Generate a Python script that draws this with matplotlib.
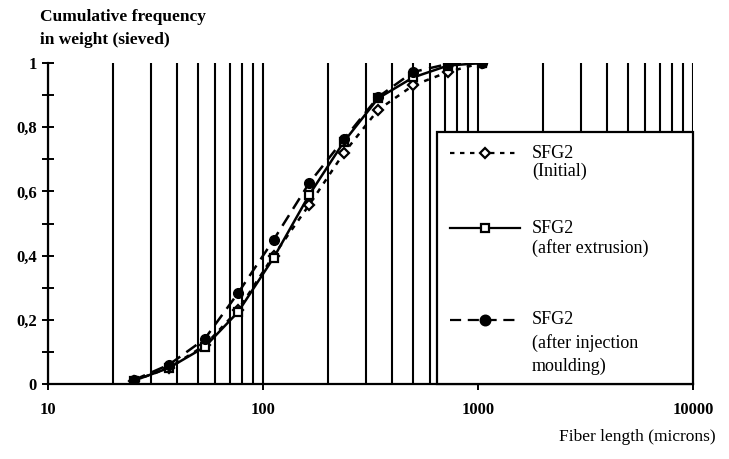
import matplotlib
matplotlib.use("Agg")
import matplotlib.pyplot as plt
from matplotlib.ticker import FixedLocator, FuncFormatter, LogLocator, NullFormatter
from matplotlib.patches import Rectangle
from matplotlib.lines import Line2D

plt.rcParams['font.family'] = ['Liberation Serif', 'DejaVu Serif']

# Data (fiber length in microns, cumulative frequency in weight)
length = [25, 36.5, 53.5, 76.5, 112, 164, 238, 343, 499, 725, 1040]
initial = [0.01, 0.05, 0.12, 0.23, 0.40, 0.558, 0.72, 0.854, 0.93, 0.972, 1.0]
extrusion = [0.01, 0.05, 0.115, 0.224, 0.393, 0.589, 0.755, 0.89, 0.955, 0.992, 1.0]
injection = [0.012, 0.06, 0.14, 0.283, 0.449, 0.626, 0.763, 0.894, 0.972, 0.997, 1.0]

x_ticks = [10, 100, 1000, 10000]
x_tick_labels = ["10", "100", "1000", "10000"]
y_ticks = [0, 0.2, 0.4, 0.6, 0.8, 1.0]
y_tick_labels = ["0", "0,2", "0,4", "0,6", "0,8", "1"]

fig = plt.figure(figsize=(7.29, 4.59), dpi=100)
ax = fig.add_axes([48/729, 1-384/459, 645/729, 321/459])
ax.set_xscale('log')
ax.set_xlim(10, 10000)
ax.set_ylim(0, 1)

for s in ['top', 'right']:
    ax.spines[s].set_visible(False)
for s in ['left', 'bottom']:
    ax.spines[s].set_linewidth(1.6)

ax.xaxis.set_major_locator(FixedLocator(x_ticks))
ax.set_xticklabels(x_tick_labels)
ax.xaxis.set_minor_locator(LogLocator(base=10, subs=range(2, 10)))
ax.xaxis.set_minor_formatter(NullFormatter())
ax.set_yticks(y_ticks)
ax.set_yticklabels(y_tick_labels)
ax.set_yticks([0.1, 0.3, 0.5, 0.7, 0.9], minor=True)

ax.tick_params(axis='x', which='major', direction='inout', length=8, width=1.4, labelsize=12, pad=9)
ax.tick_params(axis='x', which='minor', length=0)
ax.tick_params(axis='y', which='both', direction='inout', length=8, width=1.4, labelsize=12, pad=4)
for lab in ax.get_xticklabels() + ax.get_yticklabels():
    lab.set_fontweight('bold')

ax.grid(True, axis='x', which='both', color='black', linewidth=1.5)
ax.set_axisbelow(True)

ms = 6
ax.plot(length, initial, color='black', linestyle=(0, (2, 2.5)), linewidth=1.8,
        marker='D', markersize=ms - 1, markerfacecolor='white', markeredgecolor='black',
        markeredgewidth=1.6, zorder=3)
ax.plot(length, extrusion, color='black', linestyle='-', linewidth=1.8,
        marker='s', markersize=ms, markerfacecolor='white', markeredgecolor='black',
        markeredgewidth=1.6, zorder=3)
ax.plot(length, injection, color='black', linestyle=(0, (5, 3)), linewidth=1.8,
        marker='o', markersize=ms + 1, markerfacecolor='black', markeredgecolor='black',
        zorder=3)

# Manual legend box
lx0 = (437 - 48) / 645
ltop = (384 - 132) / 321
ax.add_patch(Rectangle((lx0, 0), 1 - lx0, ltop, transform=ax.transAxes,
                       facecolor='white', edgecolor='black', linewidth=1.6,
                       zorder=4, clip_on=False))

sx0, sx1, smk = (450 - 48) / 645, (520 - 48) / 645, (485 - 48) / 645
tx = (532 - 48) / 645
entries = [
    ((384 - 153) / 321, dict(linestyle=(0, (2, 2.5)), marker='D', markersize=ms - 1, markerfacecolor='white'),
     [("SFG2", (384 - 153) / 321), ("(Initial)", (384 - 171) / 321)]),
    ((384 - 228) / 321, dict(linestyle='-', marker='s', markersize=ms, markerfacecolor='white'),
     [("SFG2", (384 - 228) / 321), ("(after extrusion)", (384 - 248) / 321)]),
    ((384 - 320) / 321, dict(linestyle=(0, (5, 3)), marker='o', markersize=ms + 1, markerfacecolor='black'),
     [("SFG2", (384 - 320) / 321), ("(after injection", (384 - 343) / 321), ("moulding)", (384 - 366) / 321)]),
]
for ly, style, texts in entries:
    ax.add_line(Line2D([sx0, sx1], [ly, ly], transform=ax.transAxes, color='black',
                       linewidth=1.6, linestyle=style['linestyle'], zorder=5, clip_on=False))
    ax.add_line(Line2D([smk], [ly], transform=ax.transAxes, color='black', linestyle='none',
                       marker=style['marker'], markersize=style['markersize'],
                       markerfacecolor=style['markerfacecolor'], markeredgecolor='black',
                       markeredgewidth=1.6, zorder=6, clip_on=False))
    for t, ty in texts:
        ax.text(tx, ty, t, transform=ax.transAxes, fontsize=13, va='center', ha='left', zorder=6)

fig.text(40/729, 1 - 17/459, "Cumulative frequency", fontsize=12.5, fontweight='bold', va='center', ha='left')
fig.text(40/729, 1 - 40/459, "in weight (sieved)", fontsize=12.5, fontweight='bold', va='center', ha='left')
fig.text(716/729, 1 - 437/459, "Fiber length (microns)", fontsize=12.5, va='center', ha='right')

fig.savefig("out.png", dpi=100)
